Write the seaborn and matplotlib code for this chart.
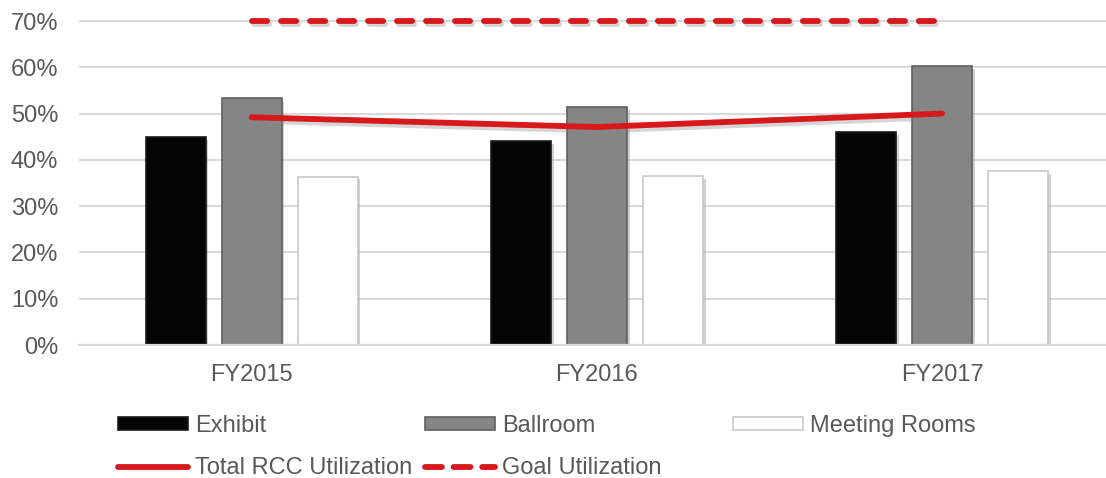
import numpy as np
import pandas as pd
import matplotlib.pyplot as plt
import matplotlib.patheffects as pe
from matplotlib.patches import Patch
from matplotlib.lines import Line2D
from matplotlib.ticker import PercentFormatter
import seaborn as sns

# Data
years = ['FY2015', 'FY2016', 'FY2017']
spaces = ['Exhibit', 'Ballroom', 'Meeting Rooms']
exhibit = [0.450, 0.440, 0.460]
ballroom = [0.533, 0.514, 0.603]
meeting_rooms = [0.364, 0.365, 0.375]
total_rcc = [0.492, 0.471, 0.500]
goal = [0.70, 0.70, 0.70]
y_ticks = [0.0, 0.1, 0.2, 0.3, 0.4, 0.5, 0.6, 0.7]

# Styling
sns.set_theme(style="white")
plt.rcParams['font.family'] = ['Liberation Sans', 'DejaVu Sans']
TEXT = '#595959'
GRID = '#d9d9d9'
RED = '#d7191c'
fills = {'Exhibit': '#050505', 'Ballroom': '#858585', 'Meeting Rooms': '#ffffff'}
edges = {'Exhibit': '#1a1a1a', 'Ballroom': '#606060', 'Meeting Rooms': '#c8c8c8'}

df = pd.DataFrame({
    'Year': years * 3,
    'Space': [s for s in spaces for _ in years],
    'Value': exhibit + ballroom + meeting_rooms,
})

W, H = 1106, 478
fig = plt.figure(figsize=(W / 100, H / 100), dpi=100)
ax = fig.add_axes([79 / W, 133 / H, (W - 79) / W, (H - 133) / H])

sns.barplot(data=df, x='Year', y='Value', hue='Space', hue_order=spaces,
            palette=fills, width=0.66, gap=0.21, linewidth=1.2,
            legend=False, ax=ax)

bar_shadow = [pe.SimplePatchShadow(offset=(2, -2), shadow_rgbFace='#999999', alpha=0.45),
              pe.Normal()]
for space, cont in zip(spaces, ax.containers):
    for bar in cont:
        bar.set_edgecolor(edges[space])
        bar.set_path_effects(bar_shadow)

xs = np.arange(len(years))
line_shadow = [pe.SimpleLineShadow(offset=(1.5, -2.5), shadow_color='#888888', alpha=0.35),
               pe.Normal()]
ax.plot(xs, total_rcc, color=RED, lw=4.2, solid_capstyle='round', zorder=5,
        path_effects=line_shadow)
ax.plot(xs, goal, color=RED, lw=4.2, dash_capstyle='round', dashes=(2.6, 2.37),
        zorder=5, clip_on=False, path_effects=line_shadow)

ax.set_xlim(-0.5, 2.475)
ax.set_ylim(0, 0.7454)
ax.set_yticks(y_ticks)
ax.yaxis.set_major_formatter(PercentFormatter(1.0, decimals=0))
ax.yaxis.grid(True, color=GRID, lw=1.4)
ax.set_axisbelow(True)
for side in ['top', 'right', 'left']:
    ax.spines[side].set_visible(False)
ax.spines['bottom'].set_color(GRID)
ax.spines['bottom'].set_linewidth(1.6)
ax.tick_params(axis='y', length=0, pad=15, labelsize=17, labelcolor=TEXT)
ax.tick_params(axis='x', length=0, pad=14, labelsize=17, labelcolor=TEXT)
ax.set_xlabel('')
ax.set_ylabel('')

# Legend, laid out in columns like the original
def bar_handle(space):
    return Patch(facecolor=fills[space], edgecolor=edges[space], linewidth=1.2)

total_handle = Line2D([], [], color=RED, lw=4.2, solid_capstyle='round')
goal_handle = Line2D([], [], color=RED, lw=4.2, dash_capstyle='round', dashes=(2.9, 2.0))

leg_kw = dict(frameon=False, fontsize=17, labelcolor=TEXT, loc='upper left',
              borderpad=0, borderaxespad=0, handlelength=2.95, handleheight=0.5,
              handletextpad=0.3, labelspacing=0.85)
top = 1 - 415 / H
fig.legend([bar_handle('Exhibit'), total_handle], ['Exhibit', 'Total RCC Utilization'],
           bbox_to_anchor=(118 / W, top), **leg_kw)
fig.legend([bar_handle('Ballroom'), goal_handle], ['Ballroom', 'Goal Utilization'],
           bbox_to_anchor=(425 / W, top), **leg_kw)
fig.legend([bar_handle('Meeting Rooms')], ['Meeting Rooms'],
           bbox_to_anchor=(733 / W, top), **leg_kw)

fig.savefig('out.png', dpi=100)
